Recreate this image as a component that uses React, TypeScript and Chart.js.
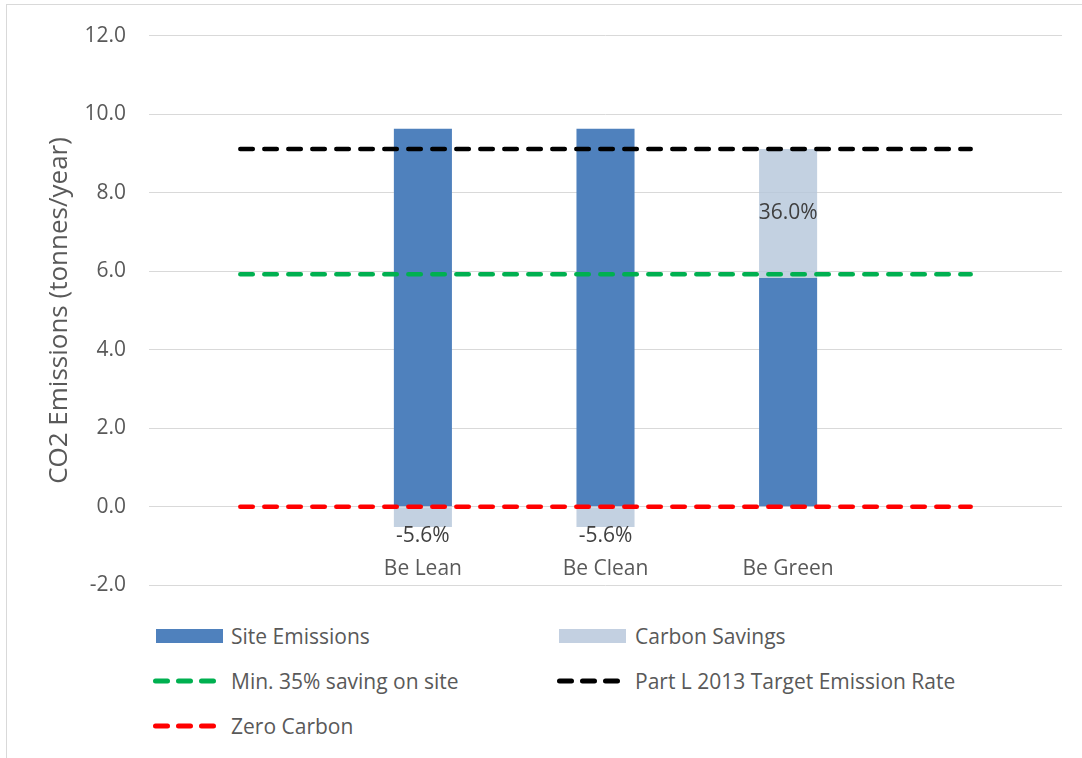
import React, { useEffect, useRef } from "react";
import { Chart, registerables } from "chart.js";

Chart.register(...registerables);

const categories = ["", "Be Lean", "Be Clean", "Be Green", ""];
const siteEmissions = [null, 9.63, 9.63, 5.83, null];
const carbonSavings = [null, -0.51, -0.51, 3.28, null];
const savingsLabels = ["", "-5.6%", "-5.6%", "36.0%", ""];
const targetEmissionRate = [9.11, 9.11, 9.11, 9.11, 9.11];
const minSavingOnSite = [5.92, 5.92, 5.92, 5.92, 5.92];
const zeroCarbon = [0, 0, 0, 0, 0];
const yMin = -2;
const yMax = 12;
const yStep = 2;

const FONT = '"Open Sans", "Noto Sans", sans-serif';
const TEXT = "#595959";
const SITE = "#4f81bd";
const SAVINGS = "rgba(180,197,218,0.8)";
const GREEN = "#00b050";
const BLACK = "#000000";
const RED = "#ff0000";

const labelPlugin = {
  id: "customLabels",
  afterDatasetsDraw(chart: any) {
    const ctx = chart.ctx;
    const meta = chart.getDatasetMeta(1);
    ctx.save();
    ctx.font = `21px ${FONT}`;
    ctx.textAlign = "center";
    ctx.textBaseline = "middle";
    ctx.fillStyle = "#404040";
    meta.data.forEach((el: any, i: number) => {
      const v = carbonSavings[i];
      if (v == null) return;
      const p = el.getProps(["x", "y", "base"], true);
      if (v < 0) ctx.fillText(savingsLabels[i], p.x, p.y + 9);
      else ctx.fillText(savingsLabels[i], p.x, (p.y + p.base) / 2);
    });
    ctx.fillStyle = TEXT;
    const xs = chart.scales.x;
    const yPix = chart.scales.y.getPixelForValue(yMin) - 16;
    categories.forEach((c, i) => {
      if (c) ctx.fillText(c, xs.getPixelForValue(i), yPix);
    });
    ctx.restore();
  },
};

function LineIcon({ color }: { color: string }) {
  return (
    <svg width={66} height={14} style={{ display: "block" }}>
      <line
        x1={2.5}
        y1={7}
        x2={60.5}
        y2={7}
        stroke={color}
        strokeWidth={5}
        strokeLinecap="round"
        strokeDasharray="12 11"
      />
    </svg>
  );
}

function BarIcon({ color, offset }: { color: string; offset: number }) {
  return (
    <div
      style={{
        marginLeft: offset,
        width: 67,
        height: 14,
        background: color,
      }}
    />
  );
}

const legendItems = [
  { label: "Site Emissions", kind: "bar", color: SITE, col: 0, row: 0 },
  { label: "Carbon Savings", kind: "bar", color: "#c3d0e1", col: 1, row: 0 },
  { label: "Min. 35% saving on site", kind: "line", color: GREEN, col: 0, row: 1 },
  { label: "Part L 2013 Target Emission Rate", kind: "line", color: BLACK, col: 1, row: 1 },
  { label: "Zero Carbon", kind: "line", color: RED, col: 0, row: 2 },
];

export default function App() {
  const ref = useRef<HTMLCanvasElement | null>(null);

  useEffect(() => {
    if (!ref.current) return;
    const lineBase = {
      type: "line" as const,
      pointRadius: 0,
      pointHoverRadius: 0,
      borderWidth: 4.5,
      borderDash: [12.5, 11.5],
      borderCapStyle: "round" as const,
      fill: false,
      order: 0,
    };
    const chart = new Chart(ref.current, {
      type: "bar",
      data: {
        labels: categories,
        datasets: [
          {
            label: "Site Emissions",
            data: siteEmissions as any,
            backgroundColor: SITE,
            stack: "bars",
            categoryPercentage: 1,
            barPercentage: 0.318,
            order: 1,
          },
          {
            label: "Carbon Savings",
            data: carbonSavings as any,
            backgroundColor: SAVINGS,
            stack: "bars",
            categoryPercentage: 1,
            barPercentage: 0.318,
            order: 1,
          },
          {
            ...lineBase,
            label: "Min. 35% saving on site",
            data: minSavingOnSite,
            borderColor: GREEN,
            stack: "l1",
          } as any,
          {
            ...lineBase,
            label: "Part L 2013 Target Emission Rate",
            data: targetEmissionRate,
            borderColor: BLACK,
            stack: "l2",
          } as any,
          {
            ...lineBase,
            label: "Zero Carbon",
            data: zeroCarbon,
            borderColor: RED,
            stack: "l3",
          } as any,
        ],
      },
      options: {
        animation: false,
        responsive: false,
        devicePixelRatio: 1,
        layout: { padding: { top: 33.5, right: 20, bottom: 17, left: 0 } },
        plugins: {
          legend: { display: false },
          tooltip: { enabled: false },
        },
        scales: {
          x: {
            display: false,
            stacked: true,
          },
          y: {
            stacked: true,
            min: yMin,
            max: yMax,
            afterFit(scale: any) {
              scale.width = 149;
            },
            ticks: {
              stepSize: yStep,
              padding: 23,
              color: TEXT,
              font: { family: FONT, size: 21 },
              callback: (v: any) => Number(v).toFixed(1),
            },
            grid: { color: "#d9d9d9", lineWidth: 1, drawTicks: false },
            border: { display: false },
            title: {
              display: true,
              text: "CO2 Emissions (tonnes/year)",
              color: TEXT,
              font: { family: FONT, size: 26 },
              padding: { top: 44, bottom: 0 },
            },
          },
        },
      },
      plugins: [labelPlugin],
    });
    return () => chart.destroy();
  }, []);

  return (
    <div
      style={{
        position: "absolute",
        left: 0,
        top: 0,
        width: 1082,
        height: 758,
        background: "#ffffff",
        overflow: "hidden",
        fontFamily: FONT,
      }}
    >
      <div
        style={{
          position: "absolute",
          left: 6,
          top: 4,
          width: 1076,
          height: 754,
          borderLeft: "1px solid #d9d9d9",
          borderTop: "1px solid #d9d9d9",
          boxSizing: "border-box",
        }}
      />
      <canvas
        ref={ref}
        width={1082}
        height={621}
        style={{ position: "absolute", left: 0, top: 0, width: 1082, height: 621 }}
      />
      {legendItems.map((it) => (
        <div
          key={it.label}
          style={{
            position: "absolute",
            left: it.col === 0 ? 153 : 557,
            top: 636 + it.row * 45 - 15,
            height: 30,
            display: "flex",
            alignItems: "center",
            whiteSpace: "nowrap",
          }}
        >
          <div style={{ width: 78, flex: "0 0 78px" }}>
            {it.kind === "bar" ? (
              <BarIcon color={it.color} offset={it.col === 0 ? 3 : 2} />
            ) : (
              <LineIcon color={it.color} />
            )}
          </div>
          <span style={{ fontSize: 21, color: TEXT, lineHeight: "30px" }}>{it.label}</span>
        </div>
      ))}
    </div>
  );
}
